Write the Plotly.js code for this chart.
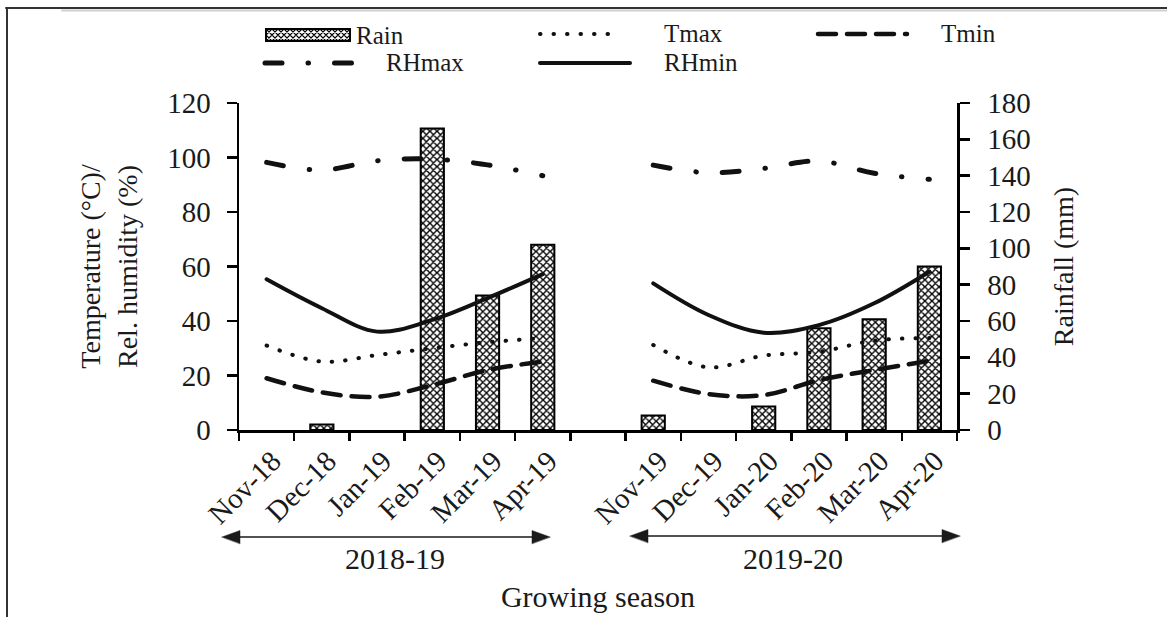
<!DOCTYPE html>
<html><head><meta charset="utf-8">
<script src="https://cdn.plot.ly/plotly-3.0.1.min.js"></script>
<style>html,body{margin:0;padding:0;background:#fff}</style>
</head><body><div id="chart" style="width:1167px;height:617px"></div>
<script>
// ---- data ----
const months = ['Nov-18','Dec-18','Jan-19','Feb-19','Mar-19','Apr-19',' ','Nov-19','Dec-19','Jan-20','Feb-20','Mar-20','Apr-20'];
const rain  = [0, 3, 0, 166, 74, 102, null, 8, 0, 13, 56, 61, 90];
const tmax  = [31, 25.1, 27.5, 30, 32.2, 33.7, null, 31.2, 23, 27.3, 28.7, 32.8, 33.8];
const tmin  = [19, 13.8, 12.2, 16.5, 22, 25.1, null, 18.1, 13.2, 12.8, 18.3, 22, 25.4];
const rhmax = [98.2, 95.4, 98.8, 99.4, 97.3, 93.3, null, 97.2, 94.4, 96, 98.7, 94.2, 92];
const rhmin = [55.3, 44.7, 36.1, 40.4, 48.4, 57.2, null, 53.8, 42.2, 35.7, 38.5, 46.5, 58.1];
const seasons = ['2018-19', '2019-20'];
const leftTicks = [0,20,40,60,80,100,120];
const rightTicks = [0,20,40,60,80,100,120,140,160,180];

// ---- styles ----
const FONT = '"Liberation Serif", "Times New Roman", serif';
const INK = '#1a1a1a';
const FS = 29;
const sty = {
  Tmax:  {color:'#111', width:4,   dash:'0.5px,13px'},
  Tmin:  {color:'#111', width:4.5, dash:'18px,11px'},
  RHmax: {color:'#111', width:5,   dash:'17px,26px,0.5px,26px'},
  RHmin: {color:'#111', width:4,   dash:'solid'}
};

// plot area in pixels
const L = 239, R = 957, T = 103, B = 430;
const px = p => (p - L) / (R - L);
const py = p => (B - p) / (B - T);

const traces = [
  {type:'bar', name:'Rain', x:months, y:rain, yaxis:'y', width:0.42, showlegend:false,
   marker:{color:'#fff', line:{color:'#000', width:rain.map(v => v ? 2 : 0)},
     pattern:{shape:'x', size:5, solidity:0.48, fgcolor:'#000', fgopacity:1}}},
  {type:'scatter', mode:'lines', name:'Tmax', x:months, y:tmax, yaxis:'y2', showlegend:false,
   line:Object.assign({shape:'spline', smoothing:1}, sty.Tmax)},
  {type:'scatter', mode:'lines', name:'Tmin', x:months, y:tmin, yaxis:'y2', showlegend:false,
   line:Object.assign({shape:'spline', smoothing:1}, sty.Tmin)},
  {type:'scatter', mode:'lines', name:'RHmax', x:months, y:rhmax, yaxis:'y2', showlegend:false,
   line:Object.assign({shape:'spline', smoothing:1}, sty.RHmax)},
  {type:'scatter', mode:'lines', name:'RHmin', x:months, y:rhmin, yaxis:'y2', showlegend:false,
   line:Object.assign({shape:'spline', smoothing:1}, sty.RHmin)}
];

// ---- custom legend (two rows) ----
const legendItems = [
  {name:'Rain',  kind:'box', x0:266, x1:350, y:35, tx:355},
  {name:'Tmax',  x0:540, x1:620, y:34, tx:663},
  {name:'Tmin',  x0:818, x1:907, y:34, tx:940},
  {name:'RHmax', x0:265, x1:352, y:63, tx:385},
  {name:'RHmin', x0:540, x1:630, y:63, tx:663}
];
const shapes = [];
const annotations = [];
legendItems.forEach(it => {
  if (it.kind === 'box') {
    const y0 = it.y - 6, y1 = it.y + 6, cw = 6;
    let d = '';
    for (let cx = it.x0; cx < it.x1 - 0.5; cx += cw) {
      for (let cy = y0; cy < y1 - 0.5; cy += 6) {
        const xa = cx, xb = Math.min(cx + cw, it.x1), ya = cy, yb = cy + 6;
        d += `M${px(xa)},${py(ya)}L${px(xb)},${py(yb)}M${px(xb)},${py(ya)}L${px(xa)},${py(yb)}`;
      }
    }
    shapes.push({type:'rect', xref:'paper', yref:'paper', x0:px(it.x0), x1:px(it.x1), y0:py(y0), y1:py(y1),
      fillcolor:'#fff', line:{color:'#000', width:1.5}});
    shapes.push({type:'path', xref:'paper', yref:'paper', path:d, line:{color:'#000', width:1.1}});
    shapes.push({type:'rect', xref:'paper', yref:'paper', x0:px(it.x0), x1:px(it.x1), y0:py(y0), y1:py(y1),
      line:{color:'#000', width:1.8}});
  } else {
    shapes.push({type:'line', xref:'paper', yref:'paper', x0:px(it.x0), x1:px(it.x1), y0:py(it.y), y1:py(it.y),
      line:Object.assign({}, sty[it.name])});
  }
  annotations.push({xref:'paper', yref:'paper', x:px(it.tx), y:py(it.y), xanchor:'left', yanchor:'middle',
    text:it.name, showarrow:false, borderpad:0, font:{family:FONT, size:25, color:INK}});
});

// ---- season arrows ----
const arrows = [{x0:222, x1:550, y:537, tx:395, ty:558}, {x0:630, x1:960, y:536, tx:793, ty:558}];
arrows.forEach((a, i) => {
  shapes.push({type:'line', xref:'paper', yref:'paper', x0:px(a.x0+10), x1:px(a.x1-10), y0:py(a.y), y1:py(a.y),
    line:{color:INK, width:1.6}});
  const hl = 18, hh = 6.5;
  shapes.push({type:'path', xref:'paper', yref:'paper', fillcolor:INK, line:{color:INK, width:0.5},
    path:`M${px(a.x0)},${py(a.y)}L${px(a.x0+hl)},${py(a.y-hh)}L${px(a.x0+hl)},${py(a.y+hh)}Z`});
  shapes.push({type:'path', xref:'paper', yref:'paper', fillcolor:INK, line:{color:INK, width:0.5},
    path:`M${px(a.x1)},${py(a.y)}L${px(a.x1-hl)},${py(a.y-hh)}L${px(a.x1-hl)},${py(a.y+hh)}Z`});
  annotations.push({xref:'paper', yref:'paper', x:px(a.tx), y:py(a.ty), xanchor:'center', yanchor:'middle',
    text:seasons[i], showarrow:false, font:{family:FONT, size:30, color:INK}});
});

// ---- page frame lines ----
shapes.push({type:'line', xref:'paper', yref:'paper', x0:px(62), x1:px(1167), y0:py(10.5), y1:py(10.5), line:{color:'#cfcfcf', width:2}});
shapes.push({type:'line', xref:'paper', yref:'paper', x0:px(6), x1:px(1167), y0:py(8), y1:py(8), line:{color:'#333', width:2}});
shapes.push({type:'line', xref:'paper', yref:'paper', x0:px(7), x1:px(7), y0:py(8), y1:py(617), line:{color:'#333', width:2}});

const axisCommon = {showgrid:false, zeroline:false, showline:true, linecolor:'#000', linewidth:2.5,
  ticks:'outside', tickcolor:'#000', tickwidth:2.5, tickfont:{family:FONT, size:FS, color:INK}};

const layout = {
  width:1167, height:617, autosize:false,
  margin:{l:L, r:1167-R, t:T, b:617-B, pad:0},
  paper_bgcolor:'#fff', plot_bgcolor:'rgba(0,0,0,0)',
  showlegend:false, bargap:0,
  font:{family:FONT, color:INK},
  xaxis:Object.assign({}, axisCommon, {type:'category', categoryorder:'array', categoryarray:months,
    range:[-0.5, months.length-0.5], tickson:'boundaries', ticklen:8, tickangle:-45, ticklabelshift:6,
    title:{text:'Growing season', font:{family:FONT, size:30, color:INK}, standoff:57}}),
  yaxis:Object.assign({}, axisCommon, {side:'right', range:[0,180], tickvals:rightTicks, ticklen:10,
    ticklabelstandoff:12,
    title:{text:'Rainfall (mm)', font:{family:FONT, size:28, color:INK}, standoff:24}}),
  yaxis2:Object.assign({}, axisCommon, {overlaying:'y', side:'left', anchor:'x', range:[0,120], tickvals:leftTicks, ticklen:10,
    ticklabelstandoff:10,
    title:{text:'Temperature (°C)/<br>Rel. humidity (%)', font:{family:FONT, size:28, color:INK}, standoff:22}}),
  shapes:shapes, annotations:annotations
};

Plotly.newPlot('chart', traces, layout, {staticPlot:true, displayModeBar:false}).then(gd => {
  gd.querySelectorAll('.scatterlayer path.js-line, .shapelayer path').forEach(p => {
    p.style.strokeLinecap = 'round';
  });
});
</script></body></html>
